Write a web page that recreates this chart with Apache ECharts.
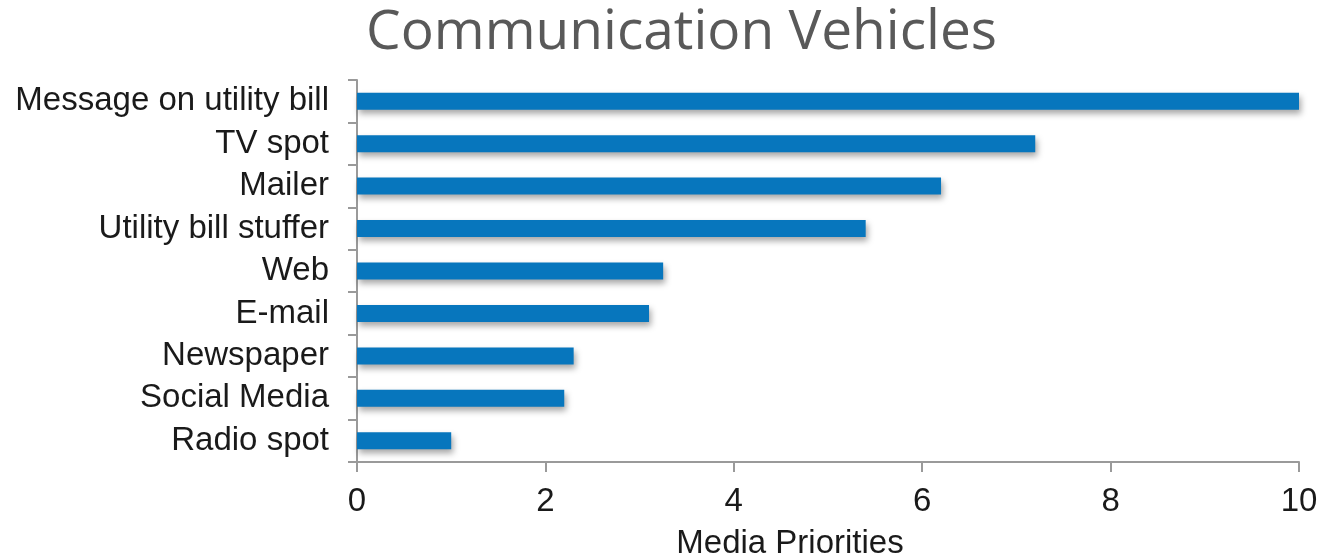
<!DOCTYPE html>
<html>
<head>
<meta charset="utf-8">
<script src="https://cdn.jsdelivr.net/npm/echarts@6/dist/echarts.min.js"></script>
<style>
  html, body { margin: 0; padding: 0; background: #ffffff; }
  #chart { width: 1320px; height: 557px; }
</style>
</head>
<body>
<div id="chart"></div>
<script>
// Communication channels, top to bottom
const categories = [
  'Message on utility bill',
  'TV spot',
  'Mailer',
  'Utility bill stuffer',
  'Web',
  'E-mail',
  'Newspaper',
  'Social Media',
  'Radio spot'
];
// Priority score for each channel
const priorities = [10, 7.2, 6.2, 5.4, 3.25, 3.1, 2.3, 2.2, 1.0];
// Value axis ticks
const xTicks = [0, 2, 4, 6, 8, 10];

const chart = echarts.init(document.getElementById('chart'), null, { renderer: 'canvas' });

const axisGrey = '#9a9a9a';
const labelFont = '"Liberation Sans", Arial, sans-serif';

chart.setOption({
  animation: false,
  backgroundColor: '#ffffff',
  title: {
    text: 'Communication Vehicles',
    left: 361,
    top: 1,
    textStyle: {
      fontFamily: '"Open Sans", "Noto Sans", sans-serif',
      fontSize: 55,
      fontWeight: 'normal',
      color: '#595959'
    }
  },
  grid: {
    left: 357, right: 21, top: 80, bottom: 95,
    containLabel: false,
    outerBoundsMode: 'none'
  },
  xAxis: {
    type: 'value',
    min: xTicks[0],
    max: xTicks[xTicks.length - 1],
    interval: 2,
    name: 'Media Priorities',
    nameLocation: 'middle',
    nameGap: 65,
    nameTextStyle: {
      fontFamily: labelFont,
      fontSize: 33,
      color: '#1a1a1a',
      // the axis title sits a little left of the axis centre
      padding: [0, 76, 0, 0]
    },
    axisLine: { show: true, lineStyle: { color: axisGrey, width: 2 } },
    axisTick: { show: true, length: 10, lineStyle: { color: axisGrey, width: 2 } },
    axisLabel: {
      margin: 23,
      fontFamily: labelFont,
      fontSize: 33,
      color: '#1a1a1a',
      formatter: v => xTicks.includes(v) ? String(v) : ''
    },
    splitLine: { show: false }
  },
  yAxis: {
    type: 'category',
    data: categories,
    inverse: true,
    axisLine: { show: true, onZero: false, lineStyle: { color: axisGrey, width: 2 } },
    axisTick: { show: true, interval: 0, length: 9, alignWithLabel: false, lineStyle: { color: axisGrey, width: 2 } },
    axisLabel: {
      interval: 0,
      margin: 28,
      fontFamily: labelFont,
      fontSize: 33,
      color: '#1a1a1a'
    },
    splitLine: { show: false }
  },
  series: [{
    type: 'bar',
    data: priorities,
    barWidth: 17,
    itemStyle: {
      color: '#0776bd',
      shadowColor: 'rgba(0,0,0,0.35)',
      shadowBlur: 6,
      shadowOffsetX: 2,
      shadowOffsetY: 4
    }
  }]
});
</script>
</body>
</html>
